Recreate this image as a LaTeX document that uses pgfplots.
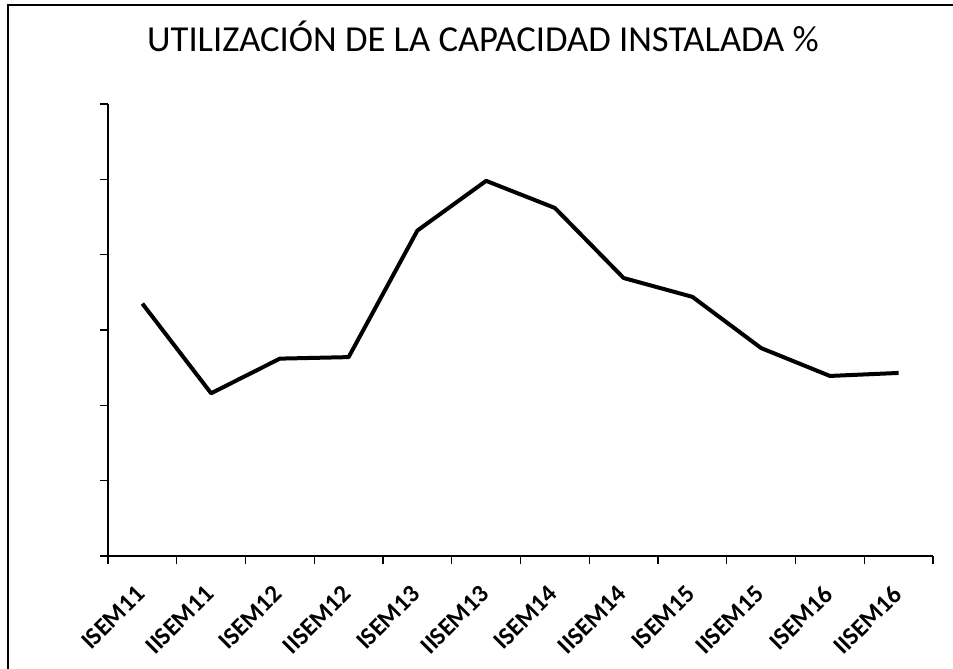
\documentclass[border=0pt]{standalone}
\usepackage{fontspec}
\setmainfont{Carlito}
\usepackage{pgfplots}
\pgfplotsset{compat=1.18}
\begin{document}
\begin{tikzpicture}
\useasboundingbox (-54pt,-56.5pt) rectangle (422.5pt,278pt);
\draw[line width=0.8pt] (-50pt,-56.5pt) -- (-50pt,275.5pt) -- (422.5pt,275.5pt);
\begin{axis}[
  at={(0,0)}, anchor=origin,
  scale only axis,
  width=412.5pt, height=226pt,
  xmin=0, xmax=12,
  ymin=0, ymax=60,
  axis x line*=bottom, axis y line*=left,
  axis line style={line width=0.8pt, -},
  xtick={0.5,1.5,...,11.5},
  xticklabels={ISEM11,IISEM11,ISEM12,IISEM12,ISEM13,IISEM13,ISEM14,IISEM14,ISEM15,IISEM15,ISEM16,IISEM16},
  x tick label style={rotate=45, anchor=north east, font=\fontsize{12.5}{14}\selectfont\bfseries, inner sep=1pt, yshift=-3.2pt, xshift=-8.6pt},
  major x tick style={draw=none},
  minor xtick={0,1,...,12},
  minor tick length=4pt,
  ytick={0,10,...,60},
  yticklabels={},
  tick align=outside,
  major tick length=4pt,
  tick style={line width=0.6pt, black},
  clip=false,
]
\addplot[line width=2pt, black, no markers, line join=round] coordinates {
(0.5,33.5) (1.5,21.6) (2.5,26.2) (3.5,26.4) (4.5,43.2) (5.5,49.8)
(6.5,46.2) (7.5,36.9) (8.5,34.4) (9.5,27.6) (10.5,23.9) (11.5,24.3)
};
\end{axis}
\node[font=\fontsize{18.3}{22}\selectfont] at (187.5pt,260pt) {UTILIZACIÓN DE LA CAPACIDAD INSTALADA \%};
\end{tikzpicture}
\end{document}
